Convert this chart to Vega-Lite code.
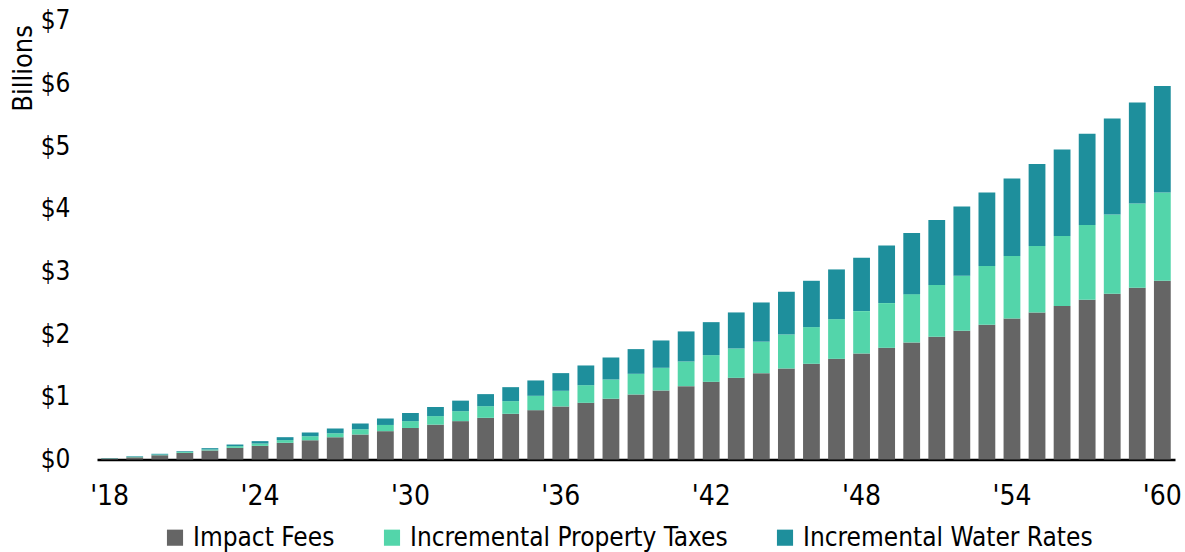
{
  "$schema": "https://vega.github.io/schema/vega-lite/v6.json",
  "width": 1078,
  "height": 438.8,
  "autosize": {"type": "none"},
  "padding": {"left": 97, "top": 20.7, "right": 10, "bottom": 92.5},
  "background": "white",
  "config": {"view": {"stroke": null}, "font": "DejaVu Sans Condensed, Liberation Sans Narrow, Roboto, sans-serif"},
  "data": {"values": [
    {"year": 2018, "Impact Fees": 0.016, "Incremental Property Taxes": 0.003, "Incremental Water Rates": 0.004},
    {"year": 2019, "Impact Fees": 0.035, "Incremental Property Taxes": 0.008, "Incremental Water Rates": 0.009},
    {"year": 2020, "Impact Fees": 0.068, "Incremental Property Taxes": 0.011, "Incremental Water Rates": 0.012},
    {"year": 2021, "Impact Fees": 0.106, "Incremental Property Taxes": 0.016, "Incremental Water Rates": 0.011},
    {"year": 2022, "Impact Fees": 0.144, "Incremental Property Taxes": 0.016, "Incremental Water Rates": 0.021},
    {"year": 2023, "Impact Fees": 0.186, "Incremental Property Taxes": 0.027, "Incremental Water Rates": 0.026},
    {"year": 2024, "Impact Fees": 0.218, "Incremental Property Taxes": 0.037, "Incremental Water Rates": 0.038},
    {"year": 2025, "Impact Fees": 0.266, "Incremental Property Taxes": 0.043, "Incremental Water Rates": 0.047},
    {"year": 2026, "Impact Fees": 0.309, "Incremental Property Taxes": 0.063, "Incremental Water Rates": 0.059},
    {"year": 2027, "Impact Fees": 0.356, "Incremental Property Taxes": 0.064, "Incremental Water Rates": 0.075},
    {"year": 2028, "Impact Fees": 0.399, "Incremental Property Taxes": 0.085, "Incremental Water Rates": 0.090},
    {"year": 2029, "Impact Fees": 0.452, "Incremental Property Taxes": 0.099, "Incremental Water Rates": 0.103},
    {"year": 2030, "Impact Fees": 0.503, "Incremental Property Taxes": 0.109, "Incremental Water Rates": 0.130},
    {"year": 2031, "Impact Fees": 0.556, "Incremental Property Taxes": 0.136, "Incremental Water Rates": 0.146},
    {"year": 2032, "Impact Fees": 0.612, "Incremental Property Taxes": 0.159, "Incremental Water Rates": 0.168},
    {"year": 2033, "Impact Fees": 0.665, "Incremental Property Taxes": 0.186, "Incremental Water Rates": 0.192},
    {"year": 2034, "Impact Fees": 0.729, "Incremental Property Taxes": 0.202, "Incremental Water Rates": 0.223},
    {"year": 2035, "Impact Fees": 0.787, "Incremental Property Taxes": 0.229, "Incremental Water Rates": 0.245},
    {"year": 2036, "Impact Fees": 0.846, "Incremental Property Taxes": 0.250, "Incremental Water Rates": 0.282},
    {"year": 2037, "Impact Fees": 0.904, "Incremental Property Taxes": 0.282, "Incremental Water Rates": 0.314},
    {"year": 2038, "Impact Fees": 0.968, "Incremental Property Taxes": 0.309, "Incremental Water Rates": 0.351},
    {"year": 2039, "Impact Fees": 1.037, "Incremental Property Taxes": 0.330, "Incremental Water Rates": 0.394},
    {"year": 2040, "Impact Fees": 1.101, "Incremental Property Taxes": 0.362, "Incremental Water Rates": 0.436},
    {"year": 2041, "Impact Fees": 1.170, "Incremental Property Taxes": 0.394, "Incremental Water Rates": 0.479},
    {"year": 2042, "Impact Fees": 1.239, "Incremental Property Taxes": 0.426, "Incremental Water Rates": 0.526},
    {"year": 2043, "Impact Fees": 1.303, "Incremental Property Taxes": 0.468, "Incremental Water Rates": 0.575},
    {"year": 2044, "Impact Fees": 1.377, "Incremental Property Taxes": 0.503, "Incremental Water Rates": 0.625},
    {"year": 2045, "Impact Fees": 1.452, "Incremental Property Taxes": 0.543, "Incremental Water Rates": 0.681},
    {"year": 2046, "Impact Fees": 1.527, "Incremental Property Taxes": 0.585, "Incremental Water Rates": 0.739},
    {"year": 2047, "Impact Fees": 1.606, "Incremental Property Taxes": 0.633, "Incremental Water Rates": 0.793},
    {"year": 2048, "Impact Fees": 1.691, "Incremental Property Taxes": 0.676, "Incremental Water Rates": 0.851},
    {"year": 2049, "Impact Fees": 1.782, "Incremental Property Taxes": 0.713, "Incremental Water Rates": 0.920},
    {"year": 2050, "Impact Fees": 1.867, "Incremental Property Taxes": 0.771, "Incremental Water Rates": 0.974},
    {"year": 2051, "Impact Fees": 1.957, "Incremental Property Taxes": 0.825, "Incremental Water Rates": 1.037},
    {"year": 2052, "Impact Fees": 2.053, "Incremental Property Taxes": 0.878, "Incremental Water Rates": 1.106},
    {"year": 2053, "Impact Fees": 2.149, "Incremental Property Taxes": 0.936, "Incremental Water Rates": 1.176},
    {"year": 2054, "Impact Fees": 2.250, "Incremental Property Taxes": 0.995, "Incremental Water Rates": 1.239},
    {"year": 2055, "Impact Fees": 2.346, "Incremental Property Taxes": 1.058, "Incremental Water Rates": 1.309},
    {"year": 2056, "Impact Fees": 2.447, "Incremental Property Taxes": 1.117, "Incremental Water Rates": 1.383},
    {"year": 2057, "Impact Fees": 2.548, "Incremental Property Taxes": 1.191, "Incremental Water Rates": 1.458},
    {"year": 2058, "Impact Fees": 2.644, "Incremental Property Taxes": 1.266, "Incremental Water Rates": 1.531},
    {"year": 2059, "Impact Fees": 2.739, "Incremental Property Taxes": 1.346, "Incremental Water Rates": 1.612},
    {"year": 2060, "Impact Fees": 2.851, "Incremental Property Taxes": 1.410, "Incremental Water Rates": 1.696}
  ]},
  "transform": [
    {"fold": ["Impact Fees", "Incremental Property Taxes", "Incremental Water Rates"], "as": ["series", "value"]}
  ],
  "mark": {"type": "bar"},
  "encoding": {
    "x": {
      "field": "year", "type": "ordinal",
      "scale": {"paddingInner": 0.33, "paddingOuter": 0.17},
      "axis": {
        "title": null,
        "values": [2018, 2024, 2030, 2036, 2042, 2048, 2054, 2060],
        "labelExpr": "\"'\" + slice(datum.label, 2)",
        "labelAngle": 0,
        "labelFontSize": 28,
        "labelColor": "#000000",
        "labelPadding": 23,
        "ticks": false,
        "domainColor": "#000000",
        "domainWidth": 2.5
      }
    },
    "y": {
      "field": "value", "type": "quantitative", "stack": "zero",
      "scale": {"domain": [0, 7], "nice": false},
      "axis": {
        "values": [0, 1, 2, 3, 4, 5, 6, 7],
        "labelExpr": "'$' + datum.value",
        "labelFontSize": 26,
        "labelColor": "#000000",
        "labelPadding": 27,
        "domain": false,
        "ticks": false,
        "grid": false,
        "title": "Billions",
        "titleFontSize": 27,
        "titleFontWeight": "normal",
        "titleColor": "#000000",
        "titleAngle": -90,
        "titleAlign": "right",
        "titleBaseline": "middle",
        "titleX": -74,
        "titleY": 4
      }
    },
    "color": {
      "field": "series", "type": "nominal",
      "scale": {
        "domain": ["Impact Fees", "Incremental Property Taxes", "Incremental Water Rates"],
        "range": ["#656565", "#53D5AA", "#1E8F9C"]
      },
      "legend": {
        "orient": "none",
        "legendX": 65,
        "legendY": 504,
        "direction": "horizontal",
        "title": null,
        "symbolType": "square",
        "symbolSize": 260,
        "symbolStrokeWidth": 0,
        "symbolOpacity": 1,
        "labelFontSize": 26,
        "labelColor": "#000000",
        "labelOffset": 5,
        "columnPadding": 44,
        "labelLimit": 500
      }
    },
    "order": {"field": "series", "sort": "ascending"}
  }
}
